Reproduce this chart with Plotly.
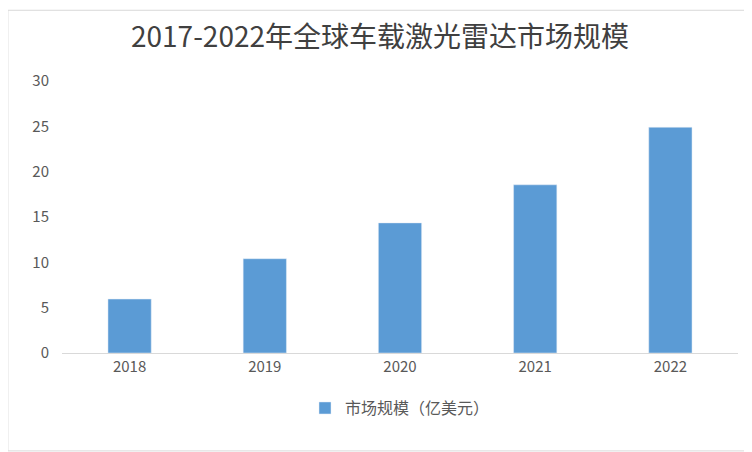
import plotly.graph_objects as go

years = ["2018", "2019", "2020", "2021", "2022"]
values = [5.95, 10.4, 14.35, 18.55, 24.9]
series_name = "市场规模（亿美元）"
title = "2017-2022年全球车载激光雷达市场规模"

font = "Noto Sans CJK SC"
fig = go.Figure(go.Bar(x=years, y=values, name=series_name, marker_color="#5b9bd5", width=0.32))
fig.update_layout(
    width=744, height=444, paper_bgcolor="white", plot_bgcolor="white",
    margin=dict(l=54, r=14, t=73, b=99),
    title=dict(text=title, x=0.5, xanchor="center", y=0.935, yanchor="middle",
               font=dict(family=font, size=28, color="#404040")),
    font=dict(family=font, size=15, color="#595959"),
    showlegend=True,
    legend=dict(orientation="h", x=0.5, xanchor="center", y=-0.14, yanchor="top",
                font=dict(size=16, color="#595959")),
    xaxis=dict(showline=True, linecolor="#d9d9d9", linewidth=1, ticks=""),
    yaxis=dict(range=[0, 30], dtick=5, showgrid=False, zeroline=False, ticks="",
               ticklabelstandoff=12),
    shapes=[dict(type="rect", xref="paper", yref="paper", x0=-0.08, x1=1.018, y0=-0.36, y1=1.26,
                 line=dict(color="#d9d9d9", width=1))],
)
fig.write_html("out.html")
